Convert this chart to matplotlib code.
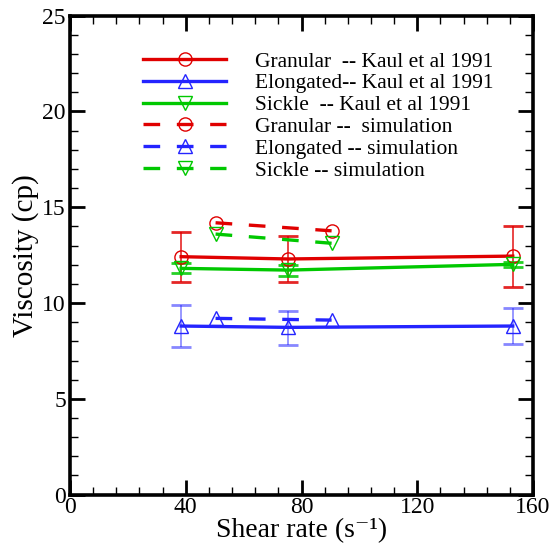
import matplotlib
matplotlib.use("Agg")
import matplotlib.pyplot as plt
from matplotlib.ticker import MultipleLocator

plt.rcParams["font.family"] = ["Liberation Serif", "DejaVu Serif"]

# Kaul et al 1991 (experiment)
kaul_x = [38.4, 75.4, 153.0]
granular_kaul = [12.42, 12.30, 12.45]
granular_kaul_lo = [11.11, 11.11, 10.85]
granular_kaul_hi = [13.69, 13.50, 14.03]
elongated_kaul = [8.80, 8.73, 8.80]
elongated_kaul_lo = [7.72, 7.81, 7.86]
elongated_kaul_hi = [9.90, 9.60, 9.76]
sickle_kaul = [11.81, 11.72, 12.02]
sickle_kaul_lo = [11.58, 11.41, 11.86]
sickle_kaul_hi = [12.07, 11.98, 12.15]

# simulation
sim_x = [50.3, 90.4]
granular_sim = [14.19, 13.77]
elongated_sim = [9.20, 9.11]
sickle_sim = [13.60, 13.12]

RED = "#e00000"
BLUE = "#2424ff"
GREEN = "#00c800"

fig = plt.figure(figsize=(5.54, 5.48), dpi=100)
ax = fig.add_axes([0.1264, 0.0974, 0.8357, 0.874])


def kaul(y, lo, hi, color, marker, label, alpha):
    err = [[v - l for v, l in zip(y, lo)], [h - v for v, h in zip(y, hi)]]
    ax.errorbar(kaul_x, y, yerr=err, fmt="none", ecolor=color, elinewidth=1.2,
                capsize=7, capthick=2, alpha=alpha, zorder=2)
    ax.plot(kaul_x, y, color=color, lw=2.4, marker=marker, ms=9.5, mfc="none",
            mec=color, mew=1.0, label=label, zorder=3)


def sim(y, color, marker, label):
    ax.plot(sim_x, y, color=color, lw=2.4, ls=(0, (5, 5)), marker=marker, ms=9.5,
            mfc="none", mec=color, mew=1.0, label=label, zorder=3)


kaul(granular_kaul, granular_kaul_lo, granular_kaul_hi, RED, "o", "Granular  -- Kaul et al 1991", 0.85)
kaul(elongated_kaul, elongated_kaul_lo, elongated_kaul_hi, BLUE, "^", "Elongated-- Kaul et al 1991", 0.55)
kaul(sickle_kaul, sickle_kaul_lo, sickle_kaul_hi, GREEN, "v", "Sickle  -- Kaul et al 1991", 0.85)
sim(granular_sim, RED, "o", "Granular --  simulation")
sim(elongated_sim, BLUE, "^", "Elongated -- simulation")
sim(sickle_sim, GREEN, "v", "Sickle -- simulation")

ax.set_xlim(0, 160)
ax.set_ylim(0, 25)
ax.xaxis.set_major_locator(MultipleLocator(40))
ax.xaxis.set_minor_locator(MultipleLocator(8))
ax.yaxis.set_major_locator(MultipleLocator(5))
ax.yaxis.set_minor_locator(MultipleLocator(1))
ax.tick_params(which="both", direction="in", top=True, right=True, labelsize=17)
ax.tick_params(which="major", length=11, width=2, pad=3)
ax.tick_params(axis="x", which="major", pad=1.5)
ax.tick_params(which="minor", length=6, width=1)
for s in ax.spines.values():
    s.set_linewidth(2.6)

ax.set_xlabel("Shear rate (s\u207b\u00b9)", fontsize=20, labelpad=0)
ax.set_ylabel("Viscosity (cp)", fontsize=21, labelpad=2)

ax.legend(loc="upper left", bbox_to_anchor=(0.14, 0.943), frameon=False, fontsize=15.5,
          handlelength=3.85, handletextpad=1.35, labelspacing=0.08, borderaxespad=0)

fig.savefig("out.png", dpi=100)
